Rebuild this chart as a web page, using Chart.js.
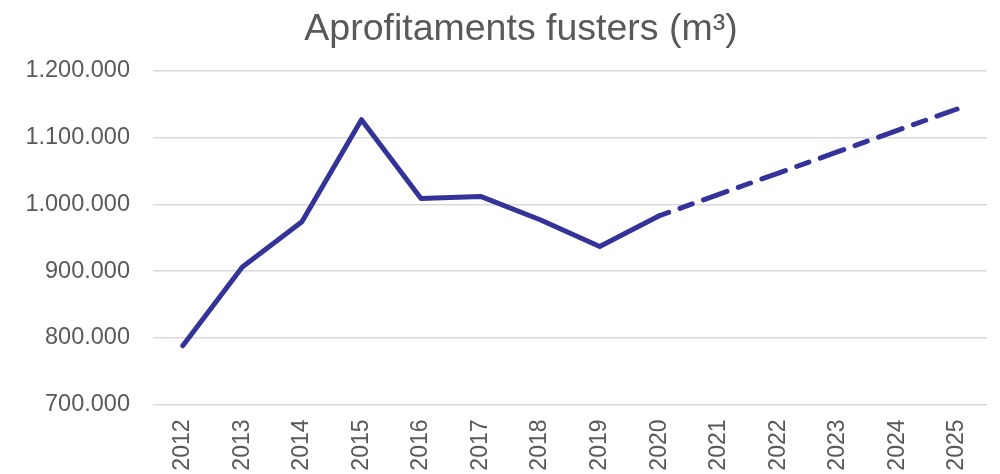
<!DOCTYPE html>
<html lang="ca">
<head>
    <meta charset="UTF-8">
    <title>Aprofitaments fusters</title>
    <script src="https://cdn.jsdelivr.net/npm/chart.js"></script>
    <style>
        body { margin: 0; background: white; }
        #wrap { width: 1000px; height: 474px; }
    </style>
</head>
<body>
    <div id="wrap"><canvas id="lineChart"></canvas></div>
    <script>
        // Dades llegides del gràfic
        const anys = ['2012', '2013', '2014', '2015', '2016', '2017', '2018', '2019', '2020', '2021', '2022', '2023', '2024', '2025'];
        const real = [788000, 906000, 974000, 1127000, 1009000, 1012000, 977000, 937000, 983000];
        const previsio = [983000, 1015000, 1047000, 1079000, 1111000, 1143000];
        const ticksY = [700000, 800000, 900000, 1000000, 1100000, 1200000];

        const color = '#333399';
        const gris = '#595959';
        const lletra = 'Liberation Sans, Arial, sans-serif';

        // omplir amb null per alinear amb els anys
        const serieReal = anys.map((a, i) => i < real.length ? real[i] : null);
        const inici = anys.length - previsio.length;
        const seriePrev = anys.map((a, i) => i >= inici ? previsio[i - inici] : null);

        function formatPunts(v) {
            return String(v).replace(/\B(?=(\d{3})+(?!\d))/g, '.');
        }

        // el títol de l'original no està centrat al llenç, sinó una mica a la dreta
        const titolDesplacat = {
            id: 'titolDesplacat',
            afterLayout(chart) {
                if (chart.titleBlock) chart.titleBlock.left += 52;
            }
        };

        const ctx = document.getElementById('lineChart').getContext('2d');
        new Chart(ctx, {
            type: 'line',
            data: {
                labels: anys,
                datasets: [{
                    label: 'Real',
                    data: serieReal,
                    borderColor: color,
                    borderWidth: 5,
                    borderCapStyle: 'round',
                    borderJoinStyle: 'round',
                    pointRadius: 0,
                    tension: 0
                }, {
                    label: 'Previsió',
                    data: seriePrev,
                    borderColor: color,
                    borderWidth: 5,
                    borderDash: [25, 12, 13, 12],
                    borderDashOffset: 15,
                    borderCapStyle: 'round',
                    borderJoinStyle: 'round',
                    pointRadius: 0,
                    tension: 0
                }]
            },
            options: {
                responsive: true,
                maintainAspectRatio: false,
                animation: false,
                layout: { padding: { left: 0, right: 10, top: 0, bottom: 0 } },
                plugins: {
                    legend: { display: false },
                    tooltip: { enabled: false },
                    title: {
                        display: true,
                        text: 'Aprofitaments fusters (m³)',
                        color: gris,
                        font: { family: lletra, size: 37.5, weight: 'normal', lineHeight: 1.2 },
                        padding: { top: 7, bottom: 19 }
                    }
                },
                scales: {
                    x: {
                        offset: true,
                        grid: { display: false, drawTicks: false },
                        border: { display: false },
                        ticks: {
                            color: gris,
                            font: { family: lletra, size: 23 },
                            minRotation: 90,
                            maxRotation: 90,
                            autoSkip: false,
                            padding: 15
                        },
                        afterFit: s => { s.height = 69.5; }
                    },
                    y: {
                        min: 700000,
                        max: 1200000,
                        grid: { color: '#d9d9d9', lineWidth: 1.5, drawTicks: false },
                        border: { display: false },
                        ticks: {
                            color: gris,
                            font: { family: lletra, size: 23.5 },
                            padding: 23,
                            callback: v => formatPunts(v)
                        },
                        afterBuildTicks: s => { s.ticks = ticksY.map(v => ({ value: v })); },
                        afterFit: s => { s.width = 153; }
                    }
                }
            },
            plugins: [titolDesplacat]
        });
    </script>
</body>
</html>
